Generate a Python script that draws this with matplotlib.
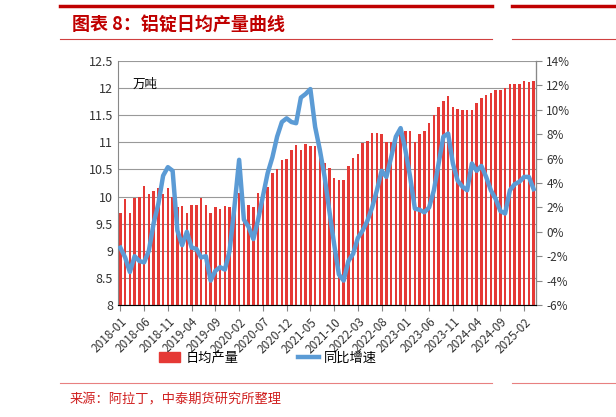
import matplotlib
matplotlib.use("Agg")
import matplotlib.pyplot as plt
import numpy as np
import pandas as pd
from matplotlib.patches import Patch
from matplotlib.lines import Line2D

plt.rcParams['font.family'] = ['Noto Sans CJK SC', 'DejaVu Sans']

months = pd.date_range("2018-01-01", periods=88, freq="MS").strftime("%Y-%m").tolist()
daily_output = [
    9.7, 9.95, 9.7, 9.98, 10.0, 10.2, 10.05, 10.1, 10.15, 10.05, 10.15, 10.0,
    9.8, 9.82, 9.7, 9.85, 9.85, 9.98, 9.85, 9.7, 9.8, 9.77, 9.82, 9.8,
    9.8, 10.07, 9.8, 9.85, 9.8, 10.07, 10.08, 10.18, 10.43, 10.5, 10.68, 10.7,
    10.86, 10.95, 10.86, 10.97, 10.93, 10.93, 10.8, 10.61, 10.52, 10.35, 10.3, 10.3,
    10.57, 10.72, 10.78, 10.98, 11.02, 11.18, 11.18, 11.15, 11.0, 11.0, 11.1, 11.15,
    11.2, 11.2, 11.0, 11.15, 11.2, 11.35, 11.5, 11.65, 11.77, 11.85, 11.66, 11.61,
    11.6, 11.6, 11.6, 11.72, 11.81, 11.88, 11.91, 11.96, 11.96, 12.0, 12.07, 12.07,
    12.07, 12.13, 12.12, 12.13,
]
yoy_pct = [
    -1.3, -2.1, -3.3, -2.0, -2.4, -2.5, -1.55, 0.7, 2.3, 4.6, 5.3, 5.0,
    0.1, -1.1, 0.0, -1.3, -1.4, -2.1, -2.0, -4.0, -3.2, -2.9, -3.1, -1.55,
    2.0, 5.9, 1.0, 0.4, -0.6, 1.0, 2.9, 4.8, 6.1, 7.8, 9.0, 9.3,
    9.0, 8.9, 11.0, 11.3, 11.7, 8.6, 6.7, 4.5, 1.7, -1.0, -3.5, -4.0,
    -2.4, -1.8, -0.5, 0.1, 0.9, 2.0, 3.4, 5.0, 4.5, 6.1, 7.8, 8.5,
    6.7, 4.5, 1.9, 1.8, 1.6, 2.0, 3.4, 5.6, 7.8, 8.05, 5.6, 4.2,
    3.7, 3.4, 5.6, 5.0, 5.4, 4.5, 3.4, 2.7, 1.7, 1.5, 3.4, 3.9,
    4.1, 4.5, 4.5, 3.5,
]

red = "#C00000"
W, H = 616, 417
fig = plt.figure(figsize=(6.16, 4.17), dpi=100)
ax = fig.add_axes([118/W, 1-305/H, (536-118)/W, (305-61)/H])
x = np.arange(len(months))
ax.bar(x, daily_output, width=0.5, color="#E53935", zorder=2)
ax.set_ylim(8, 12.5)
ax.set_yticks(np.arange(8, 12.51, 0.5))
ax.set_yticklabels(["8", "8.5", "9", "9.5", "10", "10.5", "11", "11.5", "12", "12.5"])
ax.set_xlim(-0.5, len(months) - 0.5)
ax.set_xticks(x[::5])
ax.set_xticklabels(months[::5], rotation=45, ha="right", rotation_mode="anchor", fontsize=8.5, color="#333333")
ax.grid(axis="y", color="#999999", lw=0.8, zorder=0)
ax.spines["top"].set_visible(False)
ax.spines["left"].set_color("#888888")
ax.spines["bottom"].set_color("#888888")
ax.tick_params(axis="y", labelsize=9, length=0, labelcolor="#333333")
ax.tick_params(axis="x", length=4, color="#888888")
ax.text(0.035, 0.93, "万吨", transform=ax.transAxes, fontsize=9, va="top")

ax2 = ax.twinx()
ax2.plot(x, yoy_pct, color="#5B9BD5", lw=3.2, zorder=3)
ax2.set_ylim(-6, 14)
ax2.set_yticks(np.arange(-6, 14.1, 2))
ax2.set_yticklabels([f"{v}%" for v in range(-6, 15, 2)])
ax2.tick_params(axis="y", labelsize=8.5, length=4, color="#888888", labelcolor="#333333")
ax2.spines["top"].set_visible(False)
ax2.spines["right"].set_color("#888888")
ax2.spines["left"].set_visible(False)

fig.legend([Patch(color="#E53935"), Line2D([], [], color="#5B9BD5", lw=3.2)],
           ["日均产量", "同比增速"], loc="center", bbox_to_anchor=(268/W, 1-358/H),
           ncol=2, frameon=False, fontsize=9.5, columnspacing=4.5, handlelength=1.6,
           handletextpad=0.4)

fig.text(72/W, 1-24/H, "图表 8：铝锭日均产量曲线", color=red, fontsize=13,
         fontweight="bold", style="italic", va="center")
for x0, x1 in [(60, 492), (512, 616)]:
    fig.add_artist(Line2D([x0/W, x1/W], [1-6/H]*2, color=red, lw=2.5))
    fig.add_artist(Line2D([x0/W, x1/W], [1-39/H]*2, color="#D04040", lw=0.8))
    fig.add_artist(Line2D([x0/W, x1/W], [1-383/H]*2, color="#E88080", lw=0.8))
fig.text(70/W, 1-400/H, "来源：阿拉丁，中泰期货研究所整理", color="#D02020", fontsize=9.5, va="center")

fig.savefig("out.png", dpi=100)
